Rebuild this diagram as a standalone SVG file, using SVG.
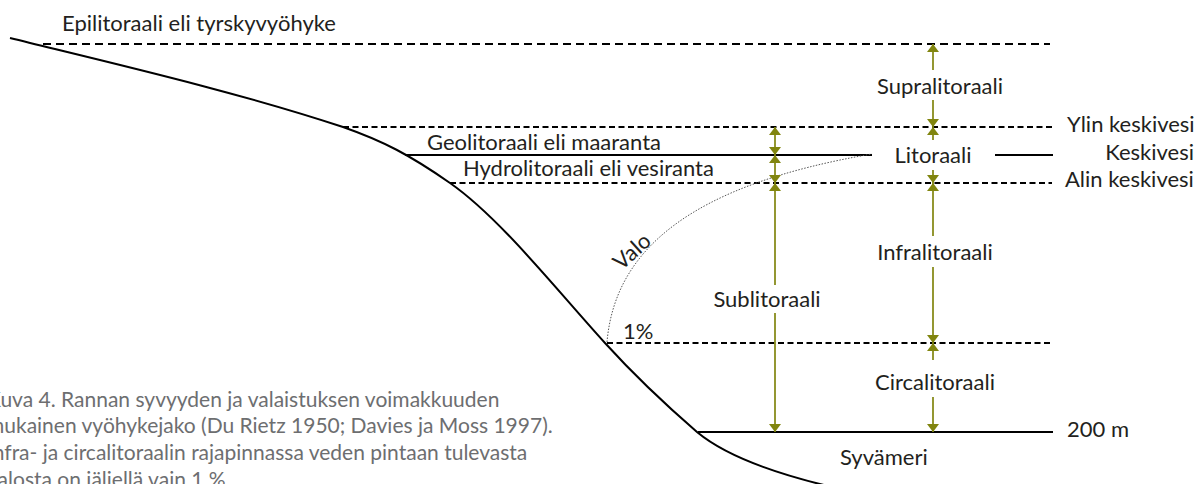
<svg xmlns="http://www.w3.org/2000/svg" width="1204" height="484" viewBox="0 0 1204 484">
<defs>
<style>
.t{font-family:Lato,"Open Sans","Noto Sans",sans-serif;font-size:22px;fill:#231f20}
.cap{font-family:Lato,"Open Sans","Noto Sans",sans-serif;font-size:21px;fill:#6d6e70}
.mid{text-anchor:middle}
.end{text-anchor:end}
.solid{stroke:#000;stroke-width:2;fill:none}
.dash{stroke:#000;stroke-width:2;fill:none;stroke-dasharray:6 3.5}
.dashL{stroke:#000;stroke-width:2;fill:none;stroke-dasharray:8 5}
.arr{stroke:#81850f;stroke-width:1.7;fill:none;marker-end:url(#ah)}
.arr2{stroke:#81850f;stroke-width:1.7;fill:none;marker-end:url(#ah);marker-start:url(#ahs)}
.dot{stroke:#555;stroke-width:1;fill:none;stroke-dasharray:1.5 1.5}
</style>
<marker id="ah" viewBox="0 0 8 12" refX="8" refY="6" markerWidth="8" markerHeight="12" markerUnits="userSpaceOnUse" orient="auto">
<path d="M0,0 L8,6 L0,12 z" fill="#81850f"/>
</marker>
<marker id="ahs" viewBox="0 0 8 12" refX="8" refY="6" markerWidth="8" markerHeight="12" markerUnits="userSpaceOnUse" orient="auto-start-reverse">
<path d="M0,0 L8,6 L0,12 z" fill="#81850f"/>
</marker>
</defs>
<rect width="1204" height="484" fill="#fff"/>

<g id="levels">
<line class="dashL" x1="43" y1="44" x2="1050" y2="44"/>
<line class="dash" x1="343" y1="127" x2="1052" y2="127"/>
<line class="solid" x1="405" y1="155" x2="872" y2="155"/>
<line class="solid" x1="995" y1="155" x2="1053" y2="155"/>
<line class="dash" x1="450" y1="183" x2="1052" y2="183"/>
<line class="dash" x1="607" y1="343" x2="1052" y2="343"/>
<line class="solid" x1="698" y1="432" x2="1053" y2="432"/>
</g>

<g id="coast">
<path class="solid" d="M10,38 C120,65 233,91 343,127 C383,141 410,155 450,183 C500,218 555,288 605,343 C635,376 667,406 697,432 C727,457 778,474 828,486"/>
</g>

<g id="light">
<path class="dot" d="M607,342 C615,250 690,185 872,154"/>
</g>

<g id="connectors">
<line class="arr" x1="933" y1="70" x2="933" y2="44"/>
<line class="arr" x1="933" y1="100" x2="933" y2="127"/>
<line class="arr" x1="933" y1="140" x2="933" y2="127"/>
<line class="arr" x1="933" y1="170" x2="933" y2="183"/>
<line class="arr" x1="933" y1="236" x2="933" y2="183"/>
<line class="arr" x1="933" y1="267" x2="933" y2="343"/>
<line class="arr" x1="933" y1="360" x2="933" y2="343"/>
<line class="arr" x1="933" y1="397" x2="933" y2="432"/>
<line class="arr2" x1="775" y1="127" x2="775" y2="155"/>
<line class="arr2" x1="775" y1="155" x2="775" y2="183"/>
<line class="arr" x1="775" y1="285" x2="775" y2="183"/>
<line class="arr" x1="775" y1="313" x2="775" y2="432"/>
</g>

<g id="labels">
<text class="t" x="62" y="31">Epilitoraali eli tyrskyvyöhyke</text>
<text class="t" x="427" y="150">Geolitoraali eli maaranta</text>
<text class="t" x="463" y="176">Hydrolitoraali eli vesiranta</text>
<text class="t mid" x="940" y="94">Supralitoraali</text>
<text class="t mid" x="933" y="163">Litoraali</text>
<text class="t mid" x="935" y="260">Infralitoraali</text>
<text class="t mid" x="935" y="390">Circalitoraali</text>
<text class="t mid" x="767" y="307">Sublitoraali</text>
<text class="t" x="623" y="339">1%</text>
<text class="t mid" transform="translate(637,257) rotate(-42)">Valo</text>
<text class="t" x="1067" y="132">Ylin keskivesi</text>
<text class="t end" x="1194" y="160">Keskivesi</text>
<text class="t" x="1065" y="187">Alin keskivesi</text>
<text class="t" x="1067" y="437">200 m</text>
<text class="t" x="840" y="465">Syvämeri</text>
</g>

<g id="caption">
<text class="cap" x="-13" y="407">Kuva 4. Rannan syvyyden ja valaistuksen voimakkuuden</text>
<text class="cap" x="-13" y="433">mukainen vyöhykejako (Du Rietz 1950; Davies ja Moss 1997).</text>
<text class="cap" x="-13" y="460">Infra- ja circalitoraalin rajapinnassa veden pintaan tulevasta</text>
<text class="cap" x="-13" y="487">valosta on jäljellä vain 1 %.</text>
</g>
</svg>
